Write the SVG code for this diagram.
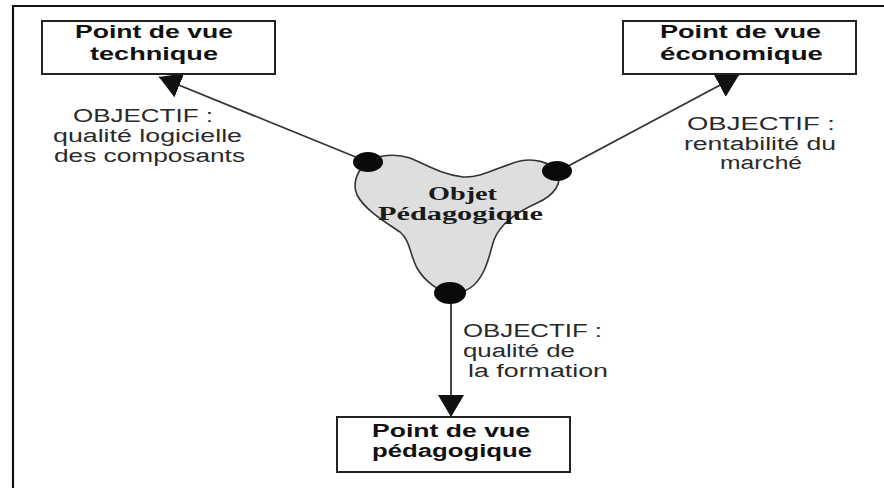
<svg xmlns="http://www.w3.org/2000/svg" width="884" height="488" viewBox="0 0 884 488">
<defs>
<marker id="arr" viewBox="0 0 22 26" refX="22" refY="13" markerWidth="22" markerHeight="26" markerUnits="userSpaceOnUse" orient="auto">
<path d="M0,0 L22,13 L0,26 z" fill="#111"/>
</marker>
</defs>
<style>
.frame{fill:none;stroke:#111;stroke-width:2.2}
.box{fill:#fff;stroke:#222;stroke-width:2}
.bt{font-family:"Liberation Sans",Arial,sans-serif;font-weight:bold;font-size:17.5px;fill:#111}
.lb{font-family:"Liberation Sans",Arial,sans-serif;font-size:18px;fill:#2a2a2a}
.obj{font-family:"Liberation Serif","Times New Roman",serif;font-weight:bold;font-size:18px;fill:#1a1a1a}
.con{stroke:#333;stroke-width:1.8;fill:none;marker-end:url(#arr)}
.blob{fill:#dedede;stroke:#333;stroke-width:1.6}
.dot{fill:#0a0a0a}
</style>
<rect width="884" height="488" fill="#fff"/>
<path class="frame" d="M13,488 V6 H884"/>
<g id="connectors">
<line class="con" x1="368" y1="162" x2="159" y2="77"/>
<line class="con" x1="557" y1="172" x2="739" y2="75"/>
<line class="con" x1="451" y1="293" x2="451" y2="417"/>
</g>
<g id="technique">
<rect class="box" x="42" y="21" width="233" height="53"/>
<text class="bt" x="75" y="38" textLength="158" lengthAdjust="spacingAndGlyphs">Point de vue</text>
<text class="bt" x="90" y="60" textLength="128" lengthAdjust="spacingAndGlyphs">technique</text>
</g>
<g id="economique">
<rect class="box" x="623" y="21" width="233" height="53"/>
<text class="bt" x="660" y="38" textLength="161" lengthAdjust="spacingAndGlyphs">Point de vue</text>
<text class="bt" x="660" y="60" textLength="163" lengthAdjust="spacingAndGlyphs">économique</text>
</g>
<g id="pedagogique">
<rect class="box" x="337" y="417" width="233" height="55"/>
<text class="bt" x="372" y="437" textLength="158" lengthAdjust="spacingAndGlyphs">Point de vue</text>
<text class="bt" x="372" y="457" textLength="160" lengthAdjust="spacingAndGlyphs">pédagogique</text>
</g>
<g id="objet">
<path class="blob" d="M368,162 C378,155 395,153 410,158 C425,164 440,174 463,177 C482,178 500,166 520,161 C535,158 550,162 557,172 C563,182 555,195 537,203 C517,212 500,224 494,240 C489,255 487,272 474,285 C466,292 458,294 450,293 C440,292 425,282 417,268 C410,255 410,240 400,232 C385,222 365,210 357,195 C352,183 357,170 368,162 Z"/>
<ellipse class="dot" cx="368" cy="162" rx="15" ry="10"/>
<ellipse class="dot" cx="557" cy="171" rx="15" ry="10"/>
<ellipse class="dot" cx="450" cy="293" rx="16" ry="11"/>
<text class="obj" x="428" y="200" textLength="69" lengthAdjust="spacingAndGlyphs">Objet</text>
<text class="obj" x="378" y="220" textLength="165" lengthAdjust="spacingAndGlyphs">Pédagogique</text>
</g>
<g id="labels">
<text class="lb" x="73" y="122" textLength="140" lengthAdjust="spacingAndGlyphs">OBJECTIF :</text>
<text class="lb" x="53" y="142" textLength="189" lengthAdjust="spacingAndGlyphs">qualité logicielle</text>
<text class="lb" x="54" y="162" textLength="191" lengthAdjust="spacingAndGlyphs">des composants</text>
<text class="lb" x="687" y="130" textLength="148" lengthAdjust="spacingAndGlyphs">OBJECTIF :</text>
<text class="lb" x="684" y="150" textLength="152" lengthAdjust="spacingAndGlyphs">rentabilité du</text>
<text class="lb" x="720" y="169" textLength="82" lengthAdjust="spacingAndGlyphs">marché</text>
<text class="lb" x="463" y="337" textLength="139" lengthAdjust="spacingAndGlyphs">OBJECTIF :</text>
<text class="lb" x="463" y="357" textLength="112" lengthAdjust="spacingAndGlyphs">qualité de</text>
<text class="lb" x="468" y="377" textLength="140" lengthAdjust="spacingAndGlyphs">la formation</text>
</g>
</svg>
